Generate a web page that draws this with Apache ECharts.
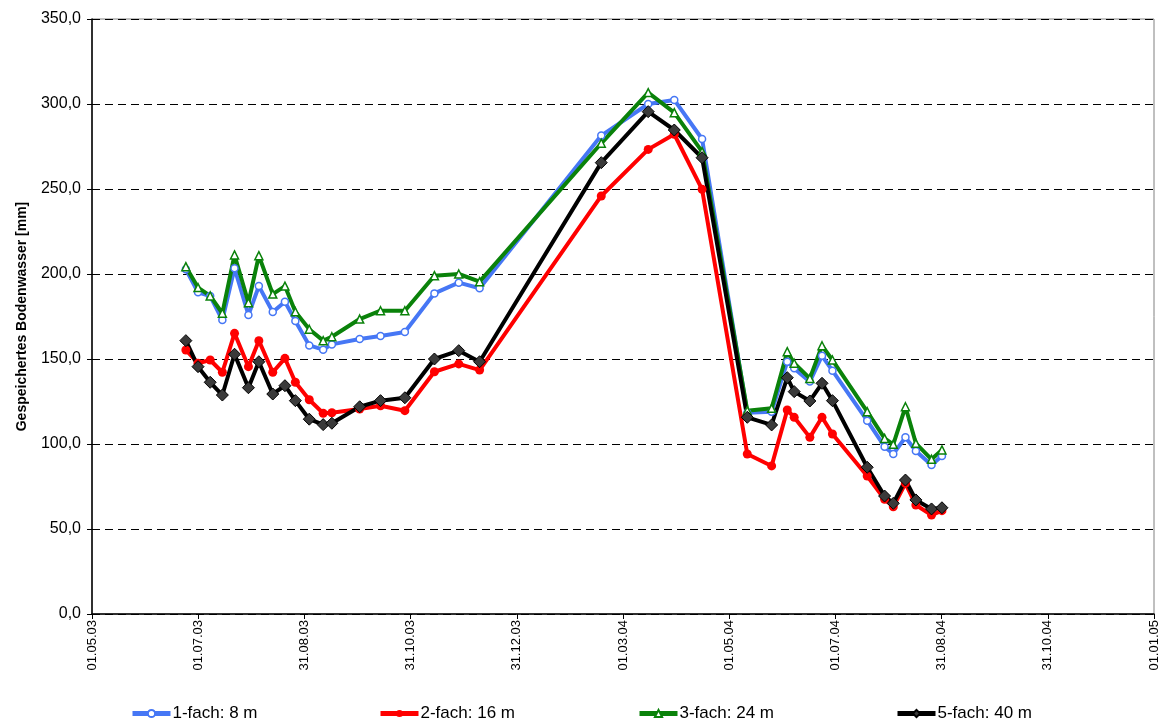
<!DOCTYPE html>
<html>
<head>
<meta charset="utf-8">
<script src="https://cdn.jsdelivr.net/npm/echarts@6/dist/echarts.min.js"></script>
<style>
  html, body { margin: 0; padding: 0; background: #fff; }
  #chart { width: 1164px; height: 724px; }
</style>
</head>
<body>
<div id="chart"></div>
<script>
// Messtermine (TT.MM.JJ)
var dates = [
  '24.06.03', '01.07.03', '08.07.03', '15.07.03', '22.07.03', '30.07.03', '05.08.03',
  '13.08.03', '20.08.03', '26.08.03', '03.09.03', '11.09.03', '16.09.03', '02.10.03',
  '14.10.03', '28.10.03', '14.11.03', '28.11.03', '10.12.03', '18.02.04', '16.03.04',
  '31.03.04', '16.04.04', '12.05.04', '26.05.04', '04.06.04', '08.06.04', '17.06.04',
  '24.06.04', '30.06.04', '20.07.04', '30.07.04', '04.08.04', '11.08.04', '17.08.04',
  '26.08.04', '01.09.04'
]

// gespeichertes Bodenwasser [mm]
var fach1 = [202.8, 189.2, 187.0, 172.9, 203.4, 175.9, 192.9, 177.6, 183.7, 172.4, 158.0, 155.5,
  158.6, 161.8, 163.5, 165.9, 188.6, 194.9, 191.6, 281.4, 300.0, 302.4, 279.4, 118.4, 119.0,
  148.4, 144.5, 136.7, 151.9, 143.1, 113.7, 98.4, 94.1, 103.9, 95.9, 87.6, 92.9]
var fach2 = [155.3, 147.5, 149.4, 142.2, 165.1, 145.5, 160.8, 142.2, 150.4, 136.3, 126.0, 118.1,
  118.4, 120.6, 122.5, 119.6, 142.5, 147.1, 143.5, 245.9, 273.3, 282.2, 249.8, 94.1, 87.1,
  120.0, 115.7, 103.9, 115.7, 105.9, 81.2, 67.5, 63.1, 76.9, 64.1, 58.2, 60.8]
var fach3 = [204.3, 192.0, 187.1, 176.9, 211.2, 183.1, 210.8, 188.2, 192.9, 177.8, 167.5, 160.8,
  163.1, 173.5, 178.4, 178.4, 199.0, 200.0, 195.5, 276.9, 306.7, 294.9, 272.0, 119.6, 121.0,
  154.3, 147.5, 138.6, 157.8, 149.4, 119.0, 103.3, 99.8, 121.9, 100.4, 91.0, 96.5]
var fach5 = [160.8, 145.5, 136.3, 128.8, 152.8, 133.1, 148.4, 129.4, 134.3, 125.5, 114.6, 111.4,
  112.2, 121.9, 125.5, 127.2, 150.0, 154.9, 148.4, 265.5, 295.5, 284.7, 268.4, 115.7, 111.2,
  139.0, 130.8, 125.3, 135.7, 125.5, 86.3, 69.4, 65.1, 78.8, 67.1, 61.8, 62.5]

var seriesNames = ['1-fach: 8 m', '2-fach: 16 m', '3-fach: 24 m', '5-fach: 40 m']

// x-Achse: Tage ab 01.05.03 bis 01.01.05
var START = Date.UTC(2003, 4, 1)
var X_MAX = 611

function toDay (s) {
  var p = s.split('.')
  return Math.round((Date.UTC(2000 + Number(p[2]), Number(p[1]) - 1, Number(p[0])) - START) / 86400000)
}

function pad (n) {
  return (n < 10 ? '0' : '') + n
}

function dayLabel (v) {
  var d = new Date(START + Math.floor(v + 1e-6) * 86400000)
  return pad(d.getUTCDate()) + '.' + pad(d.getUTCMonth() + 1) + '.' + pad(d.getUTCFullYear() % 100)
}

function pairs (values) {
  return values.map(function (v, i) { return [toDay(dates[i]), v] })
}

var chart = echarts.init(document.getElementById('chart'))

function lineSeries (name, values, color, symbol, size, fill, borderColor, borderWidth) {
  return {
    name: name,
    type: 'line',
    data: pairs(values),
    symbol: symbol,
    symbolSize: size,
    showAllSymbol: true,
    lineStyle: { color: color, width: 4 },
    itemStyle: { color: fill, borderColor: borderColor, borderWidth: borderWidth },
    emphasis: { disabled: true }
  }
}

function legendAt (left, name) {
  return {
    data: [name],
    left: left,
    top: 705,
    padding: 0,
    itemWidth: 38,
    itemHeight: 9,
    lineStyle: { width: 5 },
    textStyle: { fontFamily: 'Liberation Sans, Arial, sans-serif', fontSize: 17, color: '#000', padding: [0, 0, 0, -3] }
  }
}

chart.setOption({
  animation: false,
  textStyle: { fontFamily: 'Liberation Sans, Arial, sans-serif' },
  legend: [
    legendAt(130, seriesNames[0]),
    legendAt(378, seriesNames[1]),
    legendAt(637, seriesNames[2]),
    legendAt(895, seriesNames[3])
  ],
  grid: {
    left: 92,
    right: 10,
    top: 19,
    bottom: 110,
    show: true,
    borderColor: '#808080',
    borderWidth: 1
  },
  xAxis: {
    type: 'value',
    min: 0,
    max: X_MAX,
    interval: 61.1,
    axisLine: { lineStyle: { color: '#000', width: 1.5 } },
    axisTick: { show: true, length: 5, lineStyle: { color: '#000' } },
    splitLine: { show: false },
    axisLabel: {
      rotate: 90,
      fontSize: 13,
      color: '#000',
      margin: 6,
      showMaxLabel: true,
      formatter: dayLabel
    }
  },
  yAxis: {
    type: 'value',
    min: 0,
    max: 350,
    interval: 50,
    name: 'Gespeichertes Bodenwasser [mm]',
    nameLocation: 'middle',
    nameGap: 63,
    nameTextStyle: { fontSize: 14, fontWeight: 'bold', color: '#000' },
    axisLine: { show: true, lineStyle: { color: '#000', width: 1.5 } },
    axisTick: { show: true, length: 5, lineStyle: { color: '#000' } },
    splitLine: { show: true, lineStyle: { color: '#000', type: [8, 5], width: 1 } },
    axisLabel: {
      fontSize: 16,
      color: '#000',
      margin: 11,
      formatter: function (v) { return v.toFixed(1).replace('.', ',') }
    }
  },
  series: [
    lineSeries(seriesNames[0], fach1, '#4677F5', 'circle', 7, '#fff', '#4677F5', 1.5),
    lineSeries(seriesNames[1], fach2, '#FF0000', 'circle', 9, '#FF0000', '#FF0000', 0),
    lineSeries(seriesNames[2], fach3, '#0A820A', 'triangle', 8, '#fff', '#0A820A', 1.5),
    lineSeries(seriesNames[3], fach5, '#000000', 'diamond', 12, '#3A3A3A', '#000', 1)
  ]
})
</script>
</body>
</html>
